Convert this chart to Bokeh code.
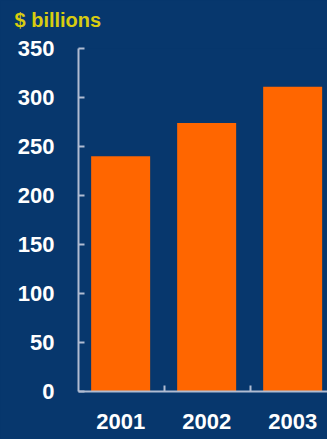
from bokeh.plotting import figure
from bokeh.models import Range1d, FixedTicker, ColumnDataSource, GlobalInlineStyleSheet, Title
from bokeh.embed import file_html
from bokeh.resources import INLINE

years = ["2001", "2002", "2003"]
values = [240, 274, 311]
y_ticks = [0, 50, 100, 150, 200, 250, 300, 350]
unit_label = "$ billions"

BG = "#07376D"
ORANGE = "#FF6600"
AXIS = "#B0BCD2"
FONT = "Liberation Sans"

xpos = [i + 0.49 for i in range(len(years))]
src = ColumnDataSource(dict(x=xpos, top=values))

p = figure(width=327, height=439, output_backend="svg", toolbar_location=None,
           x_range=Range1d(0, 2.895), y_range=Range1d(0, 350),
           min_border_left=78, min_border_right=0, min_border_top=48, min_border_bottom=48,
           background_fill_color=BG, border_fill_color=BG, outline_line_color=None)
p.stylesheets = [GlobalInlineStyleSheet(css="body{background:%s;}" % BG)]

p.vbar(x="x", top="top", width=0.686, source=src, color=ORANGE, line_color=None)

p.grid.visible = False

p.title.text = unit_label
p.title.text_color = "#D8CC10"
p.title.text_font = FONT
p.title.text_font_style = "bold"
p.title.text_font_size = "20px"
p.title.align = "left"
p.title.offset = -64
# spacer title (placed between the title and the frame)
p.add_layout(Title(text=" ", text_font_size="10px", standoff=0), "above")

ya = p.yaxis[0]
ya.ticker = FixedTicker(ticks=y_ticks)
ya.axis_line_color = AXIS
ya.axis_line_width = 2
ya.major_tick_line_color = AXIS
ya.major_tick_line_width = 2
ya.major_tick_in = 6
ya.major_tick_out = 0
ya.minor_tick_line_color = None
ya.major_label_text_color = "white"
ya.major_label_text_font = FONT
ya.major_label_text_font_style = "bold"
ya.major_label_text_font_size = "22px"
ya.major_label_standoff = 24

xa = p.xaxis[0]
xa.ticker = FixedTicker(ticks=xpos, minor_ticks=[1, 2])
xa.major_label_overrides = {x: y for x, y in zip(xpos, years)}
xa.axis_line_color = AXIS
xa.axis_line_width = 2
xa.major_tick_line_color = None
xa.major_tick_in = 0
xa.major_tick_out = 0
xa.minor_tick_line_color = AXIS
xa.minor_tick_line_width = 2
xa.minor_tick_in = 6
xa.minor_tick_out = 0
xa.major_label_text_color = "white"
xa.major_label_text_font = FONT
xa.major_label_text_font_style = "bold"
xa.major_label_text_font_size = "22px"
xa.major_label_standoff = 22

open("out.html", "w").write(file_html(p, INLINE))
